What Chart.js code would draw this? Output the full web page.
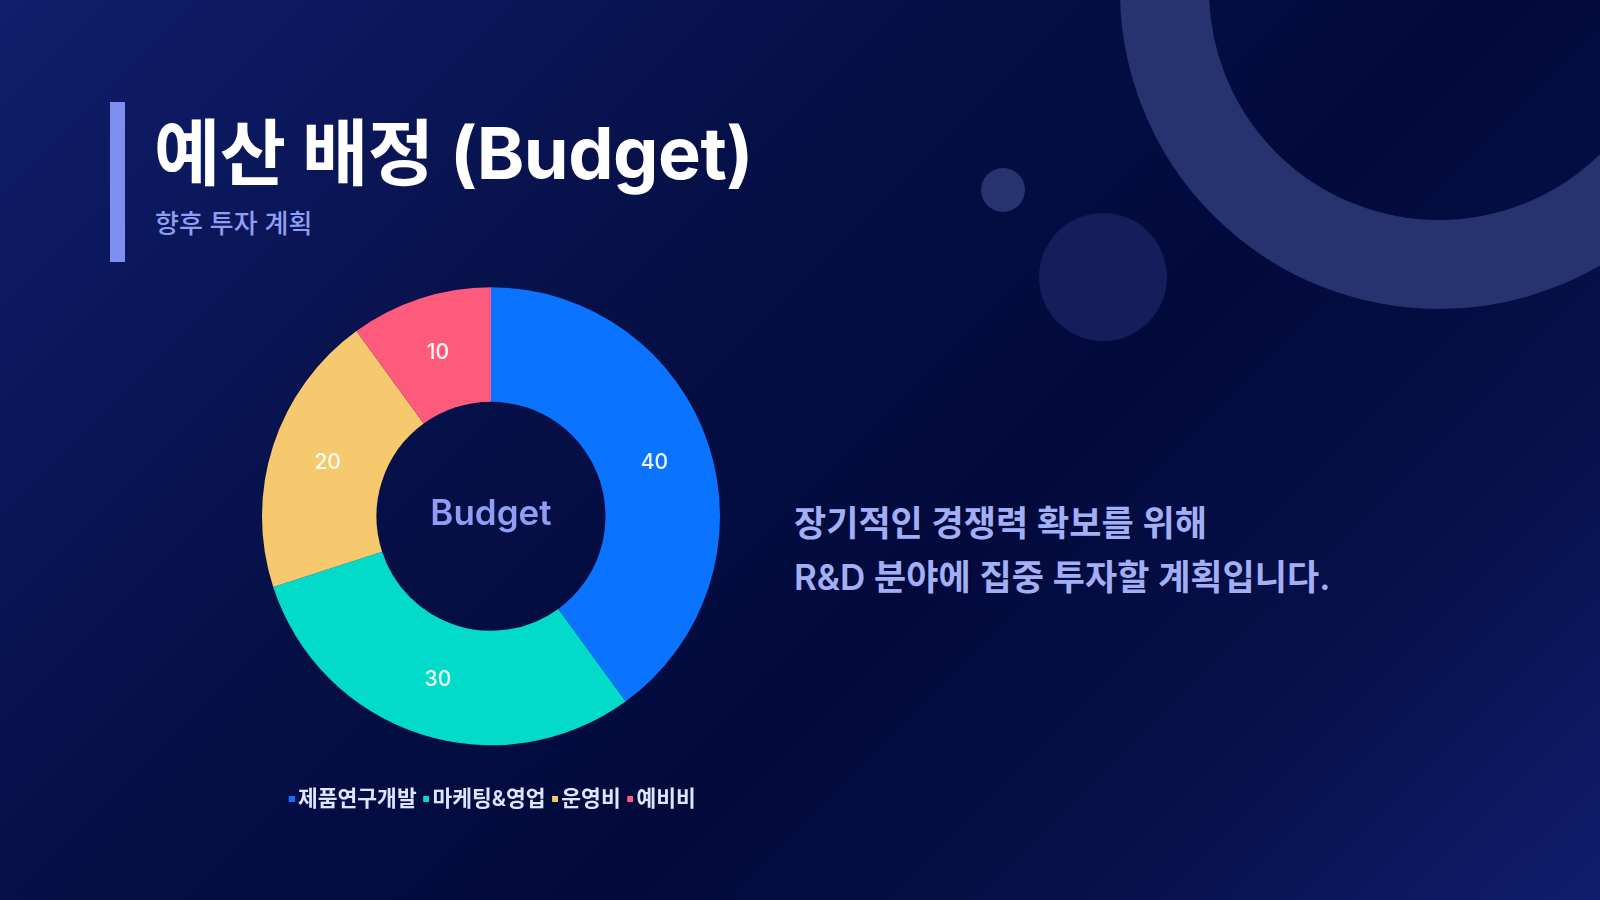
<!DOCTYPE html>
<html lang="ko">
<head>
  <meta charset="UTF-8">
  <title>예산 배정 (Budget)</title>
  <script src="https://cdn.jsdelivr.net/npm/chart.js"></script>
  <style>
    html, body { margin: 0; padding: 0; }
    body {
      width: 1600px; height: 900px; overflow: hidden; position: relative;
      font-family: Inter, "Noto Sans CJK KR", sans-serif;
      background: linear-gradient(135deg, #101e6c 0%, #061048 35%, #020a3c 60%, #07114a 80%, #101d6e 100%);
    }
    .ring { position: absolute; left: 1120px; top: -329px; width: 460px; height: 460px; border-radius: 50%; border: 89px solid #27336f; }
    .dot1 { position: absolute; left: 981px; top: 168px; width: 44px; height: 44px; border-radius: 50%; background: #27336f; }
    .dot2 { position: absolute; left: 1039px; top: 213px; width: 128px; height: 128px; border-radius: 50%; background: #131e5a; }
    .bar { position: absolute; left: 110px; top: 102px; width: 15px; height: 160px; background: #7f8ff0; }
    h1 { position: absolute; left: 154px; top: 117px; margin: 0; font-size: 72px; font-weight: 700; color: #fff; line-height: 1; letter-spacing: -0.5px; }
    .sub { position: absolute; left: 155px; top: 203px; font-size: 26px; font-weight: 500; color: #8f9df2; }
    .desc { position: absolute; left: 794px; top: 496px; font-size: 35px; font-weight: 600; color: #a2aff5; line-height: 54px; }
    .chart-box { position: absolute; left: 231px; top: 248px; width: 520px; height: 572px; }
  </style>
</head>
<body>
  <div class="ring"></div>
  <div class="dot1"></div>
  <div class="dot2"></div>
  <div class="bar"></div>
  <h1>예산 배정 (Budget)</h1>
  <div class="sub">향후 투자 계획</div>
  <div class="desc">장기적인 경쟁력 확보를 위해<br>R&amp;D 분야에 집중 투자할 계획입니다.</div>
  <div class="chart-box"><canvas id="budgetChart"></canvas></div>

  <script>
    // budget split (%)
    const categories = ['제품연구개발', '마케팅&영업', '운영비', '예비비'];
    const budgetValues = [40, 30, 20, 10];
    const sliceColors = ['#0a73ff', '#02dbc9', '#f7c96f', '#fe5b7c'];
    const centerLabel = 'Budget';

    // little legend squares, pushed to the right edge so they sit close to the text
    const markers = sliceColors.map(c => {
      const cv = document.createElement('canvas');
      cv.width = 16;
      cv.height = 6;
      const g = cv.getContext('2d');
      g.fillStyle = c;
      g.fillRect(10, 0, 6, 6);
      return cv;
    });

    // numbers drawn inside each slice
    const sliceLabels = {
      id: 'sliceLabels',
      afterDatasetsDraw(chart) {
        const ctx = chart.ctx;
        const meta = chart.getDatasetMeta(0);
        ctx.save();
        ctx.font = '500 21px Inter, "Noto Sans CJK KR"';
        ctx.fillStyle = 'rgba(255,255,255,0.92)';
        ctx.textAlign = 'center';
        ctx.textBaseline = 'middle';
        meta.data.forEach((arc, i) => {
          const p = arc.tooltipPosition();
          ctx.fillText(String(chart.data.datasets[0].data[i]), p.x, p.y);
        });
        ctx.restore();
      }
    };

    // text in the hole
    const centerText = {
      id: 'centerText',
      afterDraw(chart) {
        const ctx = chart.ctx;
        const arc = chart.getDatasetMeta(0).data[0];
        ctx.save();
        ctx.font = '600 35px Inter, "Noto Sans CJK KR"';
        ctx.fillStyle = '#8f9df2';
        ctx.textAlign = 'center';
        ctx.textBaseline = 'middle';
        ctx.fillText(centerLabel, arc.x, arc.y - 2);
        ctx.restore();
      }
    };

    new Chart(document.getElementById('budgetChart'), {
      type: 'doughnut',
      data: {
        labels: categories,
        datasets: [{
          data: budgetValues,
          backgroundColor: sliceColors,
          borderWidth: 0,
          hoverOffset: 0
        }]
      },
      options: {
        responsive: true,
        maintainAspectRatio: false,
        animation: false,
        radius: 229,
        cutout: '50%',
        layout: { padding: 0 },
        plugins: {
          tooltip: { enabled: false },
          legend: {
            position: 'bottom',
            labels: {
              usePointStyle: true,
              boxWidth: 1,
              boxHeight: 6,
              padding: 4,
              color: '#dfe4ff',
              font: { family: 'Inter, "Noto Sans CJK KR"', size: 21.5, weight: '600' },
              generateLabels(chart) {
                const items = Chart.overrides.doughnut.plugins.legend.labels.generateLabels(chart);
                items.forEach((it, i) => { it.pointStyle = markers[i]; });
                return items;
              }
            }
          }
        }
      },
      plugins: [sliceLabels, centerText]
    });
  </script>
</body>
</html>
